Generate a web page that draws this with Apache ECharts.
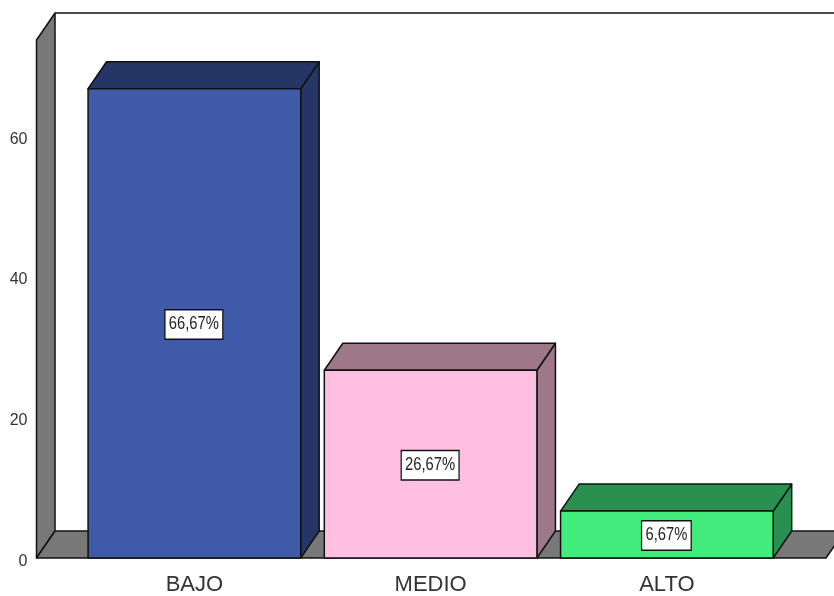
<!DOCTYPE html>
<html>
<head>
<meta charset="utf-8">
<style>html,body{margin:0;padding:0;background:#fff}#chart{width:834px;height:596px}</style>
<script src="https://cdn.jsdelivr.net/npm/echarts@6/dist/echarts.min.js"></script>
</head>
<body>
<div id="chart"></div>
<script>
// Percentage of respondents per level
const categories = ['BAJO', 'MEDIO', 'ALTO'];
const percentages = [66.67, 26.67, 6.67];
const yTicks = [0, 20, 40, 60];

const frontColors = ['#3E5AA8', '#FFBFE3', '#41EC7C'];
const shadeColors = ['#253565', '#9E7889', '#2A9050'];

// Oblique projection of the box depth, in pixels
const DEPTH_X = 18.5;
const DEPTH_Y = -27;
const WALL_LEFT = 39.75;
const FLOOR_RIGHT = 41;
const EDGE = { stroke: '#111', lineWidth: 1.5, lineJoin: 'round' };
const FONT = '"Liberation Sans", sans-serif';

function face(points, fill) {
  return { type: 'polygon', shape: { points }, style: Object.assign({ fill }, EDGE) };
}

function renderRoom(params, api) {
  const grid = params.coordSys;
  const x0 = grid.x - WALL_LEFT;
  const x1 = grid.x + grid.width + FLOOR_RIGHT;
  const yBase = api.coord([0, 0])[1];
  const yTop = grid.y;
  const gray = '#787878';
  return {
    type: 'group',
    children: [
      face([[x0, yBase], [x0, yTop], [x0 + DEPTH_X, yTop + DEPTH_Y], [x0 + DEPTH_X, yBase + DEPTH_Y]], gray),
      face([[x0, yBase], [x1, yBase], [x1 + DEPTH_X, yBase + DEPTH_Y], [x0 + DEPTH_X, yBase + DEPTH_Y]], gray),
      { type: 'line', shape: { x1: x0 + DEPTH_X, y1: yTop + DEPTH_Y, x2: x1 + DEPTH_X, y2: yTop + DEPTH_Y }, style: { stroke: '#111', lineWidth: 1.5 } }
    ]
  };
}

function renderBar(params, api) {
  const i = api.value(0);
  const v = api.value(1);
  const [cx, yTop] = api.coord([i, v]);
  const yBase = api.coord([i, 0])[1];
  const half = api.size([1, 0])[0] * 0.9 / 2;
  const l = cx - half, r = cx + half;
  return {
    type: 'group',
    children: [
      face([[r, yBase], [r, yTop], [r + DEPTH_X, yTop + DEPTH_Y], [r + DEPTH_X, yBase + DEPTH_Y]], shadeColors[i]),
      face([[l, yTop], [r, yTop], [r + DEPTH_X, yTop + DEPTH_Y], [l + DEPTH_X, yTop + DEPTH_Y]], shadeColors[i]),
      face([[l, yBase], [r, yBase], [r, yTop], [l, yTop]], frontColors[i]),
      {
        // Condensed value tag centred on the bar
        type: 'text',
        x: cx - 0.5,
        y: api.coord([i, v / 2])[1] + 1,
        scaleX: 0.82,
        style: {
          text: v.toFixed(2).replace('.', ',') + '%',
          align: 'center',
          verticalAlign: 'middle',
          fill: '#222',
          font: '18px ' + FONT,
          backgroundColor: '#fff',
          borderColor: '#111',
          borderWidth: 1.5,
          padding: [5, 4, 5, 4]
        }
      }
    ]
  };
}

const chart = echarts.init(document.getElementById('chart'), null, { renderer: 'canvas' });
chart.setOption({
  animation: false,
  backgroundColor: '#fff',
  grid: { left: 76.25, right: 49, top: 40, bottom: 38, outerBoundsMode: 'none' },
  xAxis: {
    type: 'category',
    data: categories,
    axisLine: { show: false },
    axisTick: { show: false },
    axisLabel: { color: '#333', fontFamily: FONT, fontSize: 22, margin: 16 }
  },
  yAxis: {
    type: 'value',
    min: 0,
    max: 73.6,
    interval: yTicks[1] - yTicks[0],
    offset: 39.75,
    splitLine: { show: false },
    axisLine: { show: false },
    axisTick: { show: false },
    axisLabel: {
      color: '#333',
      fontFamily: FONT,
      fontSize: 16,
      margin: 9,
      verticalAlign: 'top',
      lineHeight: 7,
      showMaxLabel: false,
      formatter: v => (yTicks.includes(v) ? String(v) : '')
    }
  },
  series: [
    {
      type: 'custom',
      silent: true,
      clip: false,
      renderItem: renderRoom,
      data: [[0, 0]],
      encode: { x: 0, y: 1 },
      z: 1
    },
    {
      type: 'custom',
      clip: false,
      renderItem: renderBar,
      data: percentages.map((v, i) => [i, v]),
      encode: { x: 0, y: 1 },
      z: 2
    }
  ]
});
</script>
</body>
</html>
